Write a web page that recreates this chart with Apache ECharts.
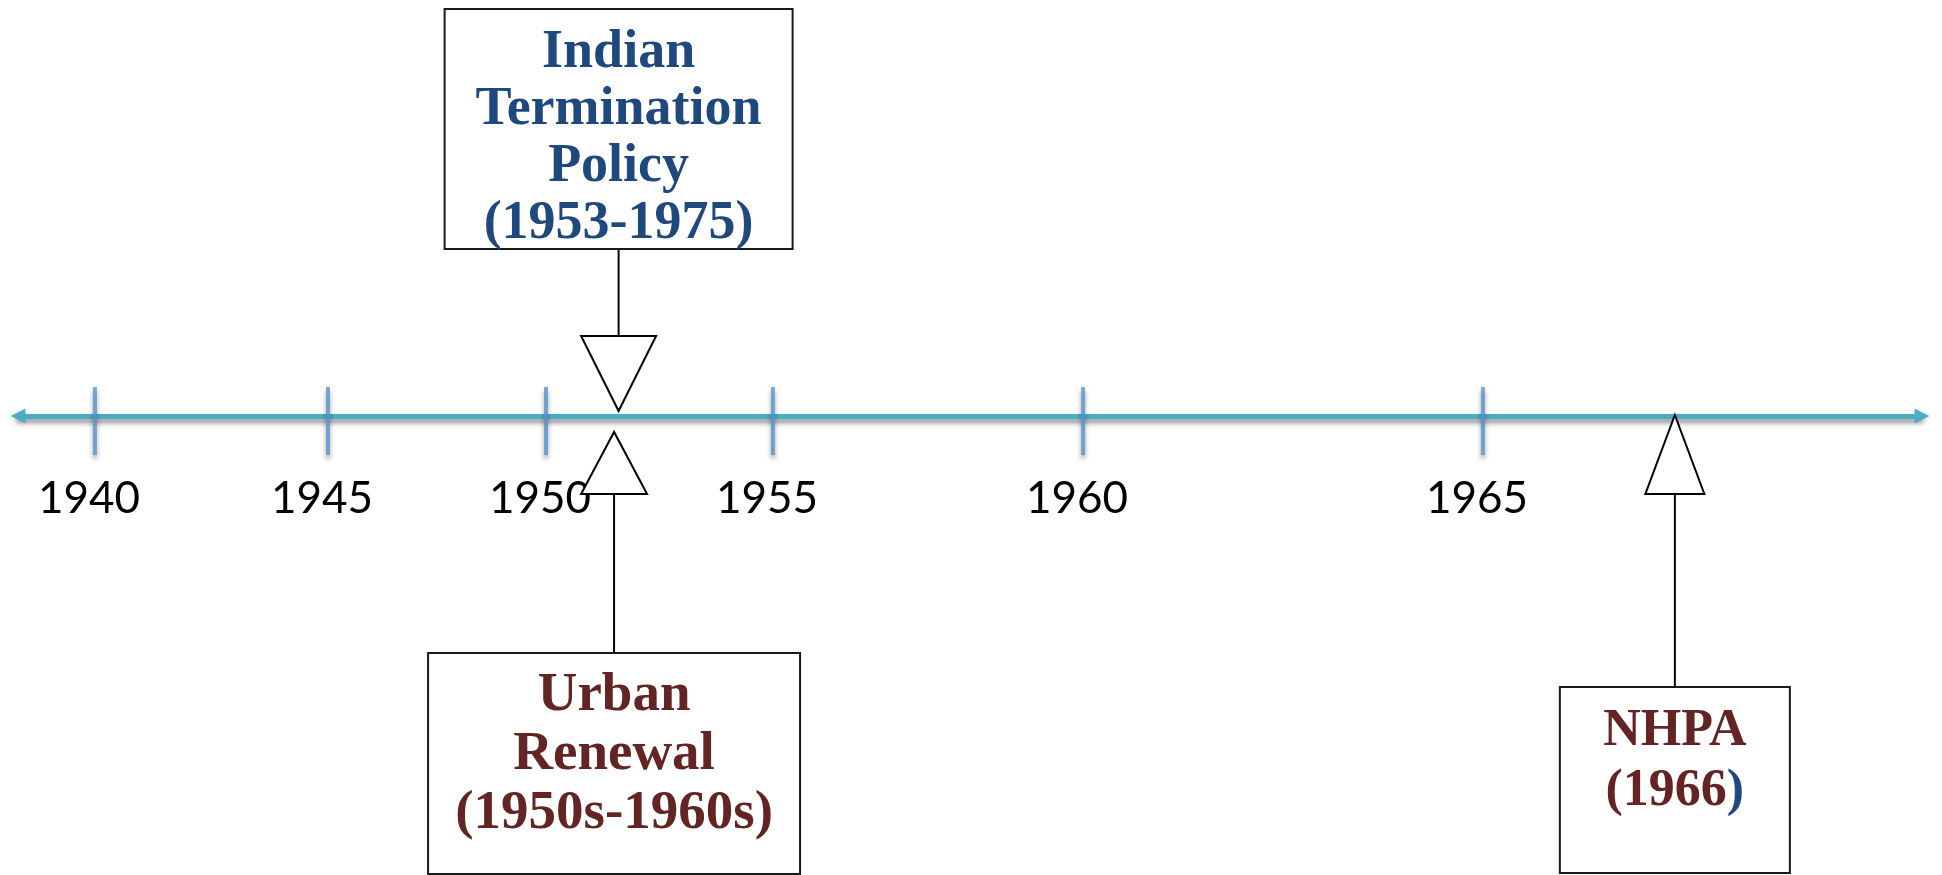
<!DOCTYPE html>
<html><head><meta charset="utf-8">
<script src="https://cdn.jsdelivr.net/npm/echarts@6/dist/echarts.min.js"></script>
<style>html,body{margin:0;padding:0;background:#fff}#c{width:1942px;height:875px}</style>
</head><body><div id="c"></div>
<script>
// ---------------- data ----------------
const tickYears  = [1940, 1945, 1950, 1955, 1960, 1965];
const tickLabels = ['1940', '1945', '1950', '1955', '1960', '1965'];
const eventLines = [
  ['Indian', 'Termination', 'Policy', '(1953-1975)'],
  ['Urban', 'Renewal', '(1950s-1960s)'],
  ['NHPA', '(1966)']
];
// where each pointer touches the drawn timeline (in years)
const eventYears = [1951.6, 1951.5, 1967.4];
const eventSides = ['above', 'below', 'below'];
const eventColors = ['blue', 'red', 'red'];

// ---------------- layout ----------------
// the drawing is not to scale: where each tick sits along the line (percent of its length)
const TICK_PLACE = [4.04, 16.28, 27.73, 39.65, 55.94, 76.94];
const CALLOUT = [
  { apexDy: -5, triH: 75, triW: 75, stem: 87,  boxW: 348, boxH: 240, textDy: 130, lh: 57, fs: 54 },
  { apexDy: 16, triH: 62, triW: 66, stem: 159, boxW: 372, boxH: 221, textDy: 102, lh: 59, fs: 55 },
  { apexDy: -1, triH: 79, triW: 59, stem: 193, boxW: 230, boxH: 186, textDy: 75,  lh: 60, fs: 52 }
];
const COLORS = { blue: '#1F497D', red: '#632523' };

function warp(year) {
  const n = tickYears.length;
  let i = 0;
  if (year >= tickYears[n - 1]) i = n - 2;
  else while (i < n - 2 && year > tickYears[i + 1]) i++;
  const t = (year - tickYears[i]) / (tickYears[i + 1] - tickYears[i]);
  return TICK_PLACE[i] + t * (TICK_PLACE[i + 1] - TICK_PLACE[i]);
}
function labelFor(v) {
  let best = 0;
  TICK_PLACE.forEach((p, i) => { if (Math.abs(p - v) < Math.abs(TICK_PLACE[best] - v)) best = i; });
  return tickLabels[best];
}

const chart = echarts.init(document.getElementById('c'), null, { renderer: 'canvas' });
const shadow = { shadowColor: 'rgba(0,0,0,0.45)', shadowBlur: 5, shadowOffsetY: 4 };

chart.setOption({
  animation: false,
  backgroundColor: '#ffffff',
  grid: { left: 18, right: 20, top: 0, height: 416 },
  xAxis: {
    type: 'value', min: 0, max: 100, position: 'bottom',
    splitLine: { show: false },
    axisTick: { show: false },
    axisLine: {
      show: true, onZero: false,
      symbol: ['triangle', 'triangle'], symbolSize: [15, 15],
      lineStyle: Object.assign({ color: '#4BACC6', width: 5 }, shadow)
    },
    axisLabel: {
      customValues: TICK_PLACE,
      formatter: v => labelFor(v),
      margin: 61,
      fontFamily: 'Lato', fontSize: 44, color: '#000',
      padding: [0, 12, 0, 0]
    }
  },
  yAxis: { type: 'value', min: 0, max: 1, show: false },
  series: [
    {
      type: 'scatter', clip: false, z: 3,
      data: tickYears.map(y => [warp(y), 0]),
      symbol: 'rect', symbolSize: [4, 68], symbolOffset: [0, 5],
      itemStyle: Object.assign({ color: '#5A93D0' }, shadow)
    },
    {
      type: 'custom', clip: false, z: 5,
      encode: { x: 0, y: 1 },
      data: eventYears.map((y, i) => [warp(y), 0, i]),
      renderItem: function (params, api) {
        const i = api.value(2);
        const L = CALLOUT[i];
        const pt = api.coord([api.value(0), 0]);
        const cx = pt[0];
        const apexY = pt[1] + L.apexDy;
        const up = eventSides[i] === 'above';
        const baseY = up ? apexY - L.triH : apexY + L.triH;
        const edgeY = up ? baseY - L.stem : baseY + L.stem;
        const boxTop = up ? edgeY - L.boxH : edgeY;
        const col = COLORS[eventColors[i]];
        const lines = eventLines[i];
        let text;
        if (i === 2) {
          text = '{r|' + lines[0] + '}\n{r|' + lines[1].slice(0, -1) + '}{b|)}';
        } else {
          text = lines.map(s => '{r|' + s + '}').join('\n');
        }
        const rich = {
          r: { fill: col, fontFamily: 'Liberation Serif', fontWeight: 'bold', fontSize: L.fs, lineHeight: L.lh },
          b: { fill: COLORS.blue, fontFamily: 'Liberation Serif', fontWeight: 'bold', fontSize: L.fs, lineHeight: L.lh }
        };
        return {
          type: 'group',
          children: [
            { type: 'line', shape: { x1: cx, y1: baseY, x2: cx, y2: edgeY },
              style: { stroke: '#000', lineWidth: 2 } },
            { type: 'polygon', shape: { points: [[cx, apexY], [cx - L.triW / 2, baseY], [cx + L.triW / 2, baseY]] },
              style: { fill: '#fff', stroke: '#000', lineWidth: 2 } },
            { type: 'rect', shape: { x: cx - L.boxW / 2, y: boxTop, width: L.boxW, height: L.boxH },
              style: { fill: '#fff', stroke: '#1a1a1a', lineWidth: 2 } },
            { type: 'text', z2: 10,
              style: { x: cx, y: boxTop + L.textDy, text: text, rich: rich,
                       align: 'center', verticalAlign: 'middle' } }
          ]
        };
      }
    }
  ]
});
</script>
</body></html>
